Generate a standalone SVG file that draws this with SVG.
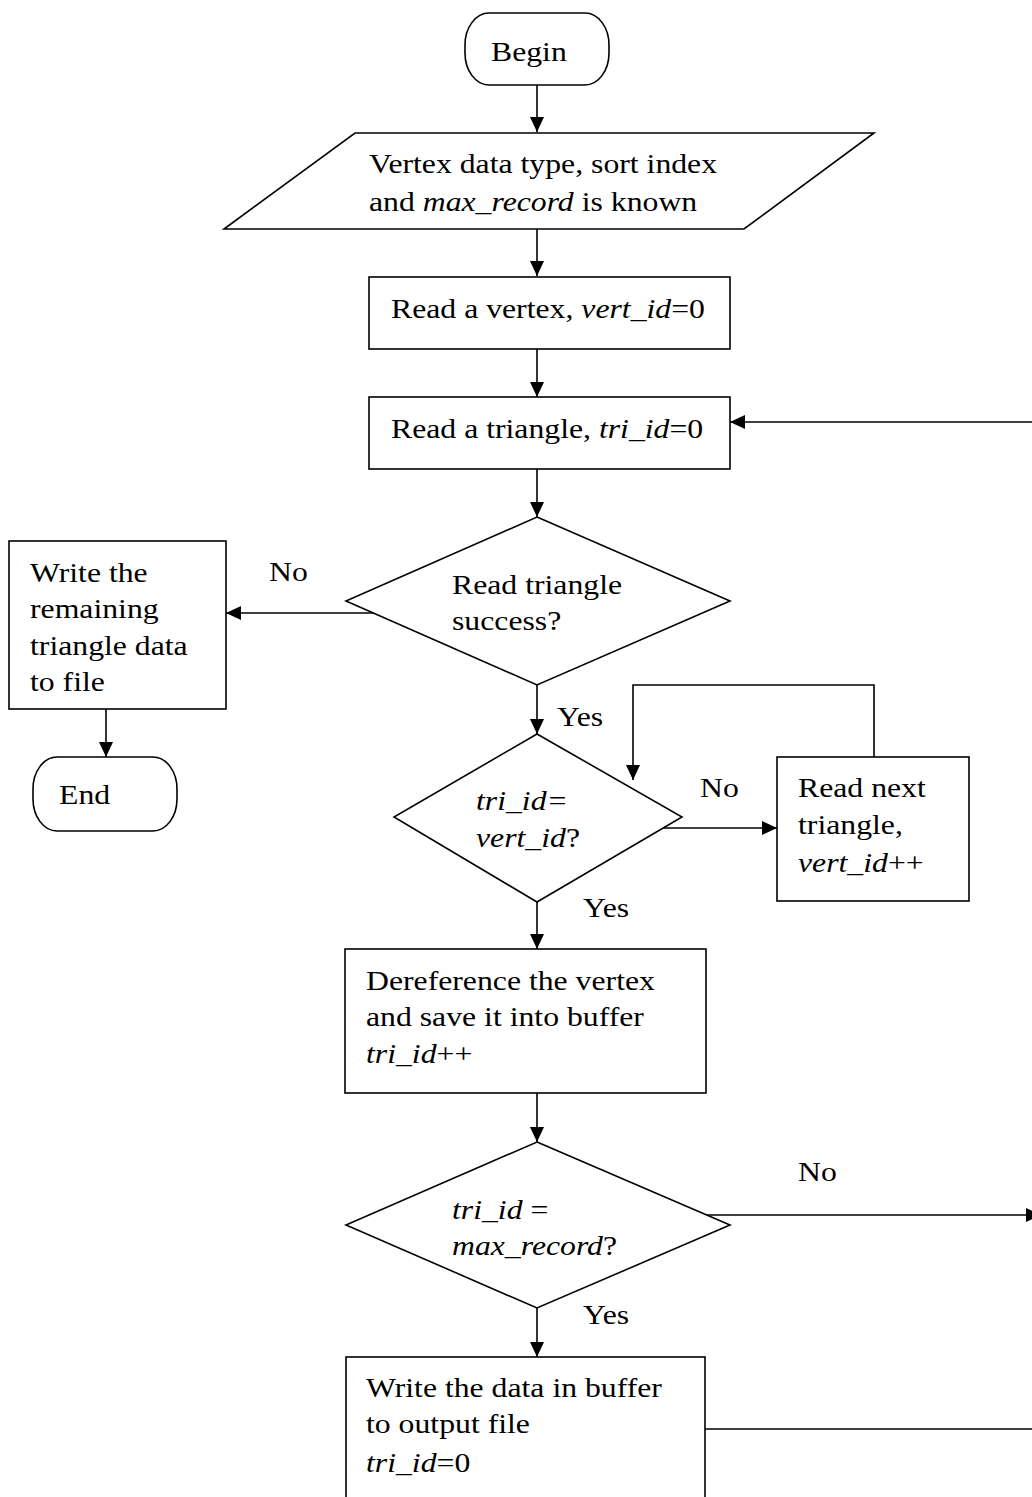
<svg xmlns="http://www.w3.org/2000/svg" width="1032" height="1497" viewBox="0 0 1032 1497">
  <style>
    .shape { fill: #ffffff; stroke: #000000; stroke-width: 1.6; }
    .edge { fill: none; stroke: #000000; stroke-width: 1.6; }
    .t { font-family: "Liberation Serif", "Times New Roman", serif; font-size: 27.6px; fill: #000000; }
    .i { font-style: italic; }
  </style>
  <defs>
    <marker id="arrow" markerUnits="userSpaceOnUse" markerWidth="16" markerHeight="16" viewBox="0 0 16 16" refX="15" refY="8" orient="auto">
      <path d="M0,1 L15,8 L0,15 Z" fill="#000000"/>
    </marker>
  </defs>
  <rect width="1032" height="1497" fill="#ffffff"/>

  <!-- connectors -->
  <g id="connectors">
    <line class="edge" x1="537" y1="85" x2="537" y2="132" marker-end="url(#arrow)"/>
    <line class="edge" x1="537" y1="229" x2="537" y2="276" marker-end="url(#arrow)"/>
    <line class="edge" x1="537" y1="349" x2="537" y2="397" marker-end="url(#arrow)"/>
    <line class="edge" x1="537" y1="469" x2="537" y2="517" marker-end="url(#arrow)"/>
    <line class="edge" x1="374" y1="613" x2="226" y2="613" marker-end="url(#arrow)"/>
    <line class="edge" x1="106" y1="709" x2="106" y2="757" marker-end="url(#arrow)"/>
    <line class="edge" x1="537" y1="685" x2="537" y2="734" marker-end="url(#arrow)"/>
    <line class="edge" x1="661" y1="828" x2="777" y2="828" marker-end="url(#arrow)"/>
    <polyline class="edge" points="874,757 874,685 633,685 633,780" marker-end="url(#arrow)"/>
    <line class="edge" x1="537" y1="902" x2="537" y2="949" marker-end="url(#arrow)"/>
    <line class="edge" x1="537" y1="1093" x2="537" y2="1142" marker-end="url(#arrow)"/>
    <line class="edge" x1="705" y1="1215" x2="1041" y2="1215" marker-end="url(#arrow)"/>
    <line class="edge" x1="537" y1="1308" x2="537" y2="1357" marker-end="url(#arrow)"/>
    <polyline class="edge" points="705,1429 1041,1429 1041,422 730,422" marker-end="url(#arrow)"/>
    <text class="t" transform="translate(269 0) scale(1.15 1)"><tspan x="0" y="581">No</tspan></text>
    <text class="t" transform="translate(557 0) scale(1.15 1)"><tspan x="0" y="726">Yes</tspan></text>
    <text class="t" transform="translate(700 0) scale(1.15 1)"><tspan x="0" y="797">No</tspan></text>
    <text class="t" transform="translate(583 0) scale(1.15 1)"><tspan x="0" y="917">Yes</tspan></text>
    <text class="t" transform="translate(798 0) scale(1.15 1)"><tspan x="0" y="1181">No</tspan></text>
    <text class="t" transform="translate(583 0) scale(1.15 1)"><tspan x="0" y="1324">Yes</tspan></text>
  </g>

  <!-- start terminal -->
  <g id="begin">
    <rect class="shape" x="465" y="13" width="144" height="72" rx="24" ry="32"/>
    <text class="t" transform="translate(491 0) scale(1.15 1)"><tspan x="0" y="61">Begin</tspan></text>
  </g>

  <!-- input parameters -->
  <g id="input">
    <polygon class="shape" points="355,133 874,133 744,229 224,229"/>
    <text class="t" transform="translate(369 0) scale(1.15 1)"><tspan x="0" y="173">Vertex data type, sort index</tspan><tspan x="0" y="211">and <tspan class="i">max_record</tspan> is known</tspan></text>
  </g>

  <g id="read-vertex">
    <rect class="shape" x="369" y="277" width="361" height="72"/>
    <text class="t" transform="translate(391 0) scale(1.15 1)"><tspan x="0" y="318">Read a vertex, <tspan class="i">vert_id</tspan>=0</tspan></text>
  </g>

  <g id="read-triangle">
    <rect class="shape" x="369" y="397" width="361" height="72"/>
    <text class="t" transform="translate(391 0) scale(1.15 1)"><tspan x="0" y="438">Read a triangle, <tspan class="i">tri_id</tspan>=0</tspan></text>
  </g>

  <g id="read-success">
    <polygon class="shape" points="537,517 730,601 537,685 346,601"/>
    <text class="t" transform="translate(452 0) scale(1.15 1)"><tspan x="0" y="594">Read triangle</tspan><tspan x="0" y="630">success?</tspan></text>
  </g>

  <g id="write-remaining">
    <rect class="shape" x="9" y="541" width="217" height="168"/>
    <text class="t" transform="translate(30 0) scale(1.15 1)"><tspan x="0" y="582">Write the</tspan><tspan x="0" y="618">remaining</tspan><tspan x="0" y="655">triangle data</tspan><tspan x="0" y="691">to file</tspan></text>
  </g>

  <!-- end terminal -->
  <g id="end">
    <rect class="shape" x="33" y="757" width="144" height="74" rx="24" ry="32"/>
    <text class="t" transform="translate(59 0) scale(1.15 1)"><tspan x="0" y="804">End</tspan></text>
  </g>

  <g id="id-match">
    <polygon class="shape" points="537,734 682,817 537,902 394,817"/>
    <text class="t i" transform="translate(476 0) scale(1.15 1)"><tspan x="0" y="810">tri_id=</tspan><tspan x="0" y="847">vert_id<tspan style="font-style:normal">?</tspan></tspan></text>
  </g>

  <g id="read-next">
    <rect class="shape" x="777" y="757" width="192" height="144"/>
    <text class="t" transform="translate(798 0) scale(1.15 1)"><tspan x="0" y="797">Read next</tspan><tspan x="0" y="834">triangle,</tspan><tspan x="0" y="872"><tspan class="i">vert_id</tspan>++</tspan></text>
  </g>

  <g id="dereference">
    <rect class="shape" x="345" y="949" width="361" height="144"/>
    <text class="t" transform="translate(366 0) scale(1.15 1)"><tspan x="0" y="990">Dereference the vertex</tspan><tspan x="0" y="1026">and save it into buffer</tspan><tspan x="0" y="1063"><tspan class="i">tri_id</tspan>++</tspan></text>
  </g>

  <g id="buffer-full">
    <polygon class="shape" points="537,1142 730,1225 537,1308 346,1225"/>
    <text class="t i" transform="translate(452 0) scale(1.15 1)"><tspan x="0" y="1219">tri_id <tspan style="font-style:normal">=</tspan></tspan><tspan x="0" y="1255">max_record<tspan style="font-style:normal">?</tspan></tspan></text>
  </g>

  <g id="write-buffer">
    <rect class="shape" x="346" y="1357" width="359" height="170"/>
    <text class="t" transform="translate(366 0) scale(1.15 1)"><tspan x="0" y="1397">Write the data in buffer</tspan><tspan x="0" y="1433">to output file</tspan><tspan x="0" y="1472"><tspan class="i">tri_id</tspan>=0</tspan></text>
  </g>
</svg>
